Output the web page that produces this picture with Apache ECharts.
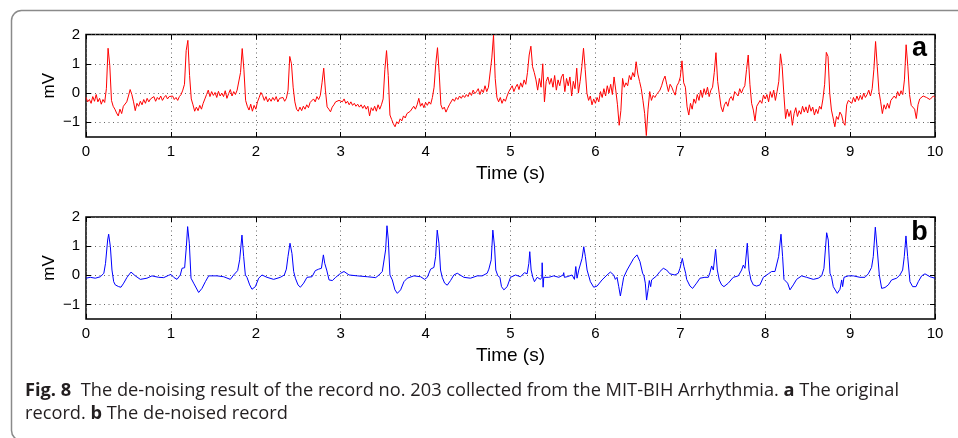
<!DOCTYPE html>
<html>
<head>
<meta charset="utf-8">
<script src="https://cdn.jsdelivr.net/npm/echarts@6/dist/echarts.min.js"></script>
<style>
  html, body { margin: 0; padding: 0; background: #fff; }
  #main { width: 958px; height: 438px; }
</style>
</head>
<body>
<div id="main"></div>
<script>
// original record (a), one row per second, sampled every 0.02 s, in mV
var rawStep = 0.02
var rawMv = [
  -0.15, -0.30, -0.22, -0.35, -0.12, -0.28, -0.05, -0.30, -0.18, -0.38, -0.22, -0.32, 0.15, 1.53, 0.95, -0.25, -0.45, -0.55, -0.68, -0.78, -0.55, -0.70, -0.45, -0.50, -0.30, -0.10, 0.12, -0.05, -0.30, -0.60, -0.35, -0.45, -0.28, -0.40, -0.22, -0.35, -0.18, -0.30, -0.20, -0.25, -0.12, -0.28, -0.15, -0.22, -0.10, -0.25, -0.15, -0.08, -0.20, -0.12,
  -0.18, -0.10, -0.22, -0.15, -0.25, -0.12, -0.05, 0.10, 0.30, 1.45, 1.80, 0.60, -0.20, -0.40, -0.62, -0.48, -0.60, -0.42, -0.55, -0.35, -0.20, -0.05, 0.10, -0.12, 0.05, -0.08, 0.02, -0.15, 0.06, -0.10, 0.00, -0.12, 0.08, -0.18, -0.02, 0.12, -0.10, 0.05, -0.05, 0.10, 0.15, 0.70, 1.52, 0.80, -0.25, -0.45, -0.58, -0.38, -0.62, -0.42,
  -0.55, -0.30, -0.15, 0.02, -0.08, -0.25, -0.12, -0.30, -0.18, -0.28, -0.15, -0.25, -0.12, -0.30, -0.18, -0.22, -0.15, -0.28, -0.18, 0.10, 1.25, 1.00, 0.20, -0.30, -0.55, -0.62, -0.48, -0.60, -0.45, -0.55, -0.40, -0.50, -0.32, -0.35, -0.20, -0.30, -0.12, -0.22, -0.08, 0.35, 0.85, 0.10, -0.47, -0.55, -0.64, -0.48, -0.40, -0.30, -0.35, -0.25,
  -0.22, -0.30, -0.20, -0.35, -0.28, -0.40, -0.30, -0.42, -0.35, -0.45, -0.38, -0.48, -0.40, -0.52, -0.42, -0.55, -0.45, -0.78, -0.50, -0.60, -0.45, -0.62, -0.40, -0.55, -0.40, -0.20, 0.80, 1.45, 0.60, -0.75, -0.90, -1.05, -1.15, -0.98, -1.05, -0.88, -0.95, -0.78, -0.85, -0.70, -0.75, -0.62, -0.68, -0.45, -0.55, -0.40, -0.18, -0.45, -0.35, -0.50,
  -0.32, -0.42, -0.30, -0.38, -0.15, 0.20, 1.00, 1.55, 0.70, -0.40, -0.55, -0.48, -0.65, -0.52, -0.40, -0.35, -0.20, -0.28, -0.15, -0.22, -0.10, -0.18, -0.08, -0.15, -0.05, -0.12, 0.02, -0.08, 0.10, -0.02, 0.05, 0.15, -0.05, 0.12, 0.02, 0.25, 0.05, 0.20, 0.15, 1.20, 1.98, 0.50, -0.15, -0.30, -0.15, -0.35, -0.20, -0.28, -0.10, 0.05,
  0.10, 0.25, 0.05, 0.20, 0.30, 0.12, 0.35, 0.20, 0.45, 0.30, 0.70, 1.30, 1.60, 0.90, 0.70, 0.45, 0.10, 0.50, 0.20, 1.00, -0.30, 0.40, 0.55, 0.30, 0.50, 0.20, 0.60, 0.10, 0.45, 0.25, 0.55, 0.65, 0.05, 0.50, 0.25, 0.55, -0.10, 0.40, 0.15, 0.85, 0.00, 0.40, 0.90, 1.53, 0.80, 0.00, -0.25, -0.10, -0.40, -0.20,
  -0.35, -0.15, -0.30, 0.05, -0.15, 0.15, -0.10, 0.25, 0.00, 0.30, -0.05, 0.55, 0.10, -0.40, -1.10, -0.60, 0.50, 0.20, 0.35, 0.25, 0.60, 0.45, 0.70, 0.55, 1.07, 0.65, 0.40, 0.15, -0.25, -0.70, -1.45, -0.55, 0.05, -0.25, -0.08, -0.15, -0.05, -0.10, 0.10, 0.25, 0.45, 0.58, 0.30, 0.05, 0.30, 0.20, 0.05, -0.07, 0.25, 0.35,
  0.55, 1.10, 0.35, 0.20, -0.47, -0.75, -0.35, -0.55, -0.20, -0.35, -0.05, -0.25, 0.10, -0.15, 0.15, -0.05, 0.20, -0.12, 0.10, 0.20, 0.70, 1.38, 0.40, -0.05, -0.47, -0.64, -0.40, -0.30, -0.45, -0.20, -0.12, -0.25, 0.05, 0.10, -0.10, 0.15, 0.00, 0.15, 0.25, 0.80, 1.30, 0.30, -0.35, -0.58, -0.95, -0.45, -0.50, -0.25, -0.35, -0.07,
  -0.20, -0.05, -0.30, 0.05, -0.15, 0.10, -0.25, 0.05, 0.40, 1.34, 0.90, -0.05, -0.87, -0.55, -0.80, -0.60, -1.10, -0.70, -0.50, -0.80, -0.60, -0.72, -0.45, -0.65, -0.47, -0.68, -0.40, -0.62, -0.48, -0.75, -0.55, -0.70, -0.45, -0.55, -0.20, 0.30, 1.39, 1.25, 0.00, -0.58, -0.85, -1.15, -0.80, -0.90, -0.65, -0.75, -1.00, -1.10, -0.40, -0.25,
  -0.20, -0.35, -0.15, -0.30, -0.10, -0.25, -0.08, -0.22, 0.00, -0.15, -0.05, 0.10, -0.10, 0.15, 0.80, 1.76, 0.90, 0.05, -0.30, -0.70, -0.40, -0.55, -0.35, -0.52, -0.25, -0.30, -0.10, -0.18, 0.05, -0.10, 0.08, -0.05, 0.45, 1.65, 0.90, -0.05, -0.42, -0.47, -0.55, -0.87, -0.40, -0.20, -0.25, -0.10, -0.05, -0.15, -0.10, -0.22, -0.18, -0.10,
  -0.15
]

// de-noised record (b), [time s, mV]
var cleanPts = [
  [0, -0.10], [0.05, -0.07], [0.11, -0.10], [0.17, -0.05], [0.21, 0.07], [0.23, 0.41], [0.255, 1.21], [0.267, 1.41], [0.287, 0.98], [0.306, 0.18],
  [0.326, -0.22], [0.345, -0.33], [0.385, -0.39], [0.412, -0.41], [0.444, -0.27], [0.483, -0.07], [0.53, 0.11], [0.581, -0.02], [0.64, -0.14], [0.718, -0.10],
  [0.777, -0.02], [0.856, -0.07], [0.915, -0.08], [0.974, 0.00], [1.001, 0.03], [1.033, -0.07], [1.072, -0.14], [1.111, 0.01], [1.131, 0.24], [1.162, 0.26],
  [1.182, 0.98], [1.197, 1.67], [1.217, 1.10], [1.237, -0.10], [1.268, -0.27], [1.327, -0.59], [1.366, -0.45], [1.406, -0.22], [1.445, -0.02], [1.543, -0.02],
  [1.622, -0.05], [1.70, -0.14], [1.739, 0.01], [1.786, 0.16], [1.81, 0.53], [1.837, 1.38], [1.857, 0.64], [1.877, 0.01], [1.896, -0.07], [1.928, -0.33],
  [1.955, -0.48], [1.995, -0.39], [2.034, -0.10], [2.073, 0.01], [2.132, -0.07], [2.21, -0.14], [2.289, -0.07], [2.336, 0.01], [2.36, 0.21], [2.379, 0.64],
  [2.403, 1.10], [2.426, 0.75], [2.446, 0.13], [2.466, -0.10], [2.497, -0.33], [2.525, -0.41], [2.564, -0.27], [2.603, -0.07], [2.662, -0.05], [2.701, 0.16],
  [2.74, 0.21], [2.773, 0.24], [2.796, 0.70], [2.812, 0.41], [2.835, 0.18], [2.863, -0.16], [2.902, -0.18], [2.941, -0.07], [3.0, 0.07], [3.039, 0.13],
  [3.098, 0.01], [3.196, -0.02], [3.314, -0.05], [3.412, -0.08], [3.451, 0.01], [3.49, 0.13], [3.51, 0.09], [3.529, 0.87], [3.545, 1.70], [3.561, 1.21],
  [3.58, 0.01], [3.608, -0.16], [3.639, -0.50], [3.667, -0.62], [3.706, -0.50], [3.745, -0.22], [3.784, -0.10], [3.863, -0.02], [3.941, -0.05], [3.988, -0.14],
  [4.02, -0.07], [4.059, 0.21], [4.098, 0.27], [4.118, 0.64], [4.137, 1.55], [4.157, 1.10], [4.176, 0.18], [4.196, -0.07], [4.224, -0.27], [4.255, -0.34],
  [4.294, -0.18], [4.333, 0.01], [4.373, 0.07], [4.451, -0.07], [4.529, -0.10], [4.608, -0.02], [4.667, -0.02], [4.725, 0.07], [4.745, 0.21], [4.773, 0.53],
  [4.792, 1.55], [4.812, 0.98], [4.827, 0.18], [4.851, -0.02], [4.875, -0.07], [4.894, -0.39], [4.922, -0.50], [4.961, -0.39], [5.0, -0.07], [5.059, 0.01],
  [5.118, -0.05], [5.165, 0.09], [5.196, 0.05], [5.216, 0.41], [5.227, 0.81], [5.243, 0.18], [5.263, -0.07], [5.282, -0.22], [5.314, -0.07], [5.353, -0.14],
  [5.369, -0.07], [5.373, 0.43], [5.38, -0.10], [5.384, -0.41], [5.392, -0.07], [5.451, -0.07], [5.51, -0.02], [5.569, -0.07], [5.62, 0.01], [5.627, 0.09],
  [5.635, -0.07], [5.667, -0.05], [5.725, 0.01], [5.753, -0.14], [5.769, 0.30], [5.784, -0.10], [5.804, 0.18], [5.824, 0.24], [5.843, 0.58], [5.863, 0.98],
  [5.882, 0.64], [5.902, 0.18], [5.941, -0.22], [5.98, -0.41], [6.02, -0.37], [6.078, -0.16], [6.137, 0.01], [6.176, 0.11], [6.216, 0.01], [6.235, -0.14],
  [6.255, -0.07], [6.275, -0.39], [6.294, -0.71], [6.314, -0.39], [6.333, -0.07], [6.373, 0.18], [6.451, 0.58], [6.49, 0.70], [6.505, 0.66], [6.525, 0.47],
  [6.556, 0.07], [6.572, -0.02], [6.588, -0.27], [6.603, -0.85], [6.623, -0.45], [6.635, -0.18], [6.651, -0.39], [6.662, -0.16], [6.682, -0.14], [6.721, -0.02],
  [6.76, 0.13], [6.80, 0.24], [6.839, 0.18], [6.878, 0.05], [6.937, 0.01], [6.976, 0.07], [6.996, 0.24], [7.024, 0.58], [7.043, 0.30], [7.063, 0.07],
  [7.075, -0.14], [7.114, -0.37], [7.145, -0.45], [7.192, -0.27], [7.232, -0.10], [7.29, -0.07], [7.33, -0.07], [7.349, 0.09], [7.369, 0.32], [7.389, 0.18],
  [7.416, 0.89], [7.436, 0.18], [7.459, -0.16], [7.487, -0.33], [7.514, -0.39], [7.565, -0.27], [7.624, -0.07], [7.683, -0.02], [7.722, 0.18], [7.742, 0.35],
  [7.762, 0.24], [7.789, 1.10], [7.809, 0.18], [7.832, -0.16], [7.86, -0.33], [7.899, -0.37], [7.938, -0.33], [7.978, -0.07], [8.037, 0.05], [8.076, 0.13],
  [8.115, 0.13], [8.135, 0.18], [8.158, 0.64], [8.186, 1.41], [8.205, 0.64], [8.221, -0.14], [8.241, -0.16], [8.264, -0.27], [8.292, -0.50], [8.311, -0.56],
  [8.331, -0.33], [8.37, -0.14], [8.429, -0.02], [8.488, -0.07], [8.567, -0.14], [8.625, -0.10], [8.665, -0.02], [8.692, 0.24], [8.724, 1.46], [8.743, 1.21],
  [8.763, 0.07], [8.782, -0.07], [8.802, -0.39], [8.822, -0.45], [8.849, -0.62], [8.881, -0.48], [8.901, -0.16], [8.912, -0.39], [8.928, -0.07], [8.979, -0.02],
  [9.038, -0.02], [9.116, -0.07], [9.175, -0.07], [9.214, 0.05], [9.253, 0.27], [9.273, 0.64], [9.297, 1.65], [9.32, 0.87], [9.344, 0.01], [9.372, -0.45],
  [9.411, -0.42], [9.45, -0.33], [9.489, -0.16], [9.548, -0.10], [9.587, 0.01], [9.619, 0.18], [9.638, 0.64], [9.658, 1.35], [9.678, 0.64], [9.705, -0.22],
  [9.737, -0.39], [9.776, -0.39], [9.803, -0.22], [9.843, -0.02], [9.882, 0.05], [9.941, -0.05], [10.0, -0.10]
]

var yTicks = [-1, 0, 1, 2]
var captionLine1 = ['Fig. 8', '  The de-noising result of the record no. 203 collected from the MIT-BIH Arrhythmia. ', 'a', ' The original']
var captionLine2 = ['record. ', 'b', ' The de-noised record']

var axisFont = "'Liberation Sans', Arial, Helvetica, sans-serif"
var capFamily = "'Open Sans', 'Noto Sans', sans-serif"

var rawPts = rawMv.map(function (v, i) { return [+(i * rawStep).toFixed(2), v] })

// squeeze the caption to the width it has in the figure
var cv = document.createElement('canvas').getContext('2d')
function textW (font, s) {
  cv.font = font
  return cv.measureText(s).width
}
var capW = textW('bold 18px ' + capFamily, captionLine1[0]) + textW('18px ' + capFamily, captionLine1[1]) +
  textW('bold 18px ' + capFamily, captionLine1[2]) + textW('18px ' + capFamily, captionLine1[3])
var capScale = 874 / capW

var tickStyle = { inside: true, length: 5, lineStyle: { color: '#000', width: 1 } }
var gridDots = { show: true, lineStyle: { color: '#666', width: 1, type: [1, 3.5] } }
var noLine = { show: false, onZero: false }

function xAxes (grid) {
  return [
    {
      gridIndex: grid, type: 'value', min: 0, max: 10, interval: 1, position: 'bottom',
      axisLine: noLine,
      axisTick: tickStyle,
      axisLabel: { margin: 7, fontSize: 15, color: '#000', fontFamily: axisFont },
      splitLine: gridDots,
      name: 'Time (s)', nameLocation: 'middle', nameGap: 27, nameMoveOverlap: false,
      nameTextStyle: { fontSize: 19, color: '#000', fontFamily: axisFont }
    },
    {
      gridIndex: grid, type: 'value', min: 0, max: 10, interval: 1, position: 'top',
      axisLine: noLine,
      axisTick: tickStyle,
      axisLabel: { show: false },
      splitLine: { show: false }
    }
  ]
}

function yAxes (grid) {
  return [
    {
      gridIndex: grid, type: 'value', min: -1.5, max: 2, position: 'left',
      axisLine: noLine,
      axisTick: Object.assign({ customValues: yTicks }, tickStyle),
      axisLabel: {
        customValues: yTicks, margin: 6, fontSize: 15, color: '#000', fontFamily: axisFont,
        formatter: function (v) { return String(v).replace('-', '\u2212') }
      },
      splitLine: gridDots,
      name: 'mV', nameLocation: 'middle', nameRotate: 90, nameGap: 28, nameMoveOverlap: false,
      nameTextStyle: { fontSize: 17, color: '#000', fontFamily: axisFont }
    },
    {
      gridIndex: grid, type: 'value', min: -1.5, max: 2, position: 'right',
      axisLine: noLine,
      axisTick: Object.assign({ customValues: yTicks }, tickStyle),
      axisLabel: { show: false },
      splitLine: { show: false }
    }
  ]
}

var chart = echarts.init(document.getElementById('main'), null, { renderer: 'canvas' })

var option = {
  animation: false,
  backgroundColor: '#fff',
  grid: [
    { left: 86, top: 34.5, width: 849, height: 102.5, show: true, borderColor: '#000', borderWidth: 1.5, backgroundColor: 'transparent' },
    { left: 86, top: 217, width: 849, height: 102, show: true, borderColor: '#000', borderWidth: 1.5, backgroundColor: 'transparent' }
  ],
  xAxis: xAxes(0).concat(xAxes(1)),
  yAxis: yAxes(0).concat(yAxes(1)),
  series: [
    {
      name: 'original', type: 'line', xAxisIndex: 0, yAxisIndex: 0,
      data: rawPts, showSymbol: false, symbol: 'none',
      lineStyle: { color: '#ff0000', width: 1 }
    },
    {
      name: 'de-noised', type: 'line', xAxisIndex: 2, yAxisIndex: 2,
      data: cleanPts, showSymbol: false, symbol: 'none',
      lineStyle: { color: '#0000ff', width: 1 }
    }
  ],
  graphic: [
    {
      type: 'rect', z: -1, silent: true,
      shape: { x: 11.5, y: 10.5, width: 990, height: 430, r: 10 },
      style: { fill: 'none', stroke: '#8a8a8a', lineWidth: 1.5 }
    },
    {
      type: 'text', x: 919.5, y: 48.5,
      style: { text: 'a', font: 'bold 27px ' + axisFont, fill: '#000', align: 'center', verticalAlign: 'middle' }
    },
    {
      type: 'text', x: 919.5, y: 233,
      style: { text: 'b', font: 'bold 27px ' + axisFont, fill: '#000', align: 'center', verticalAlign: 'middle' }
    },
    {
      type: 'text', x: 25, y: 391, scaleX: capScale,
      style: {
        text: '{b|' + captionLine1[0] + '}' + captionLine1[1] + '{b|' + captionLine1[2] + '}' + captionLine1[3],
        fontFamily: capFamily, fontSize: 18, fill: '#231f20', verticalAlign: 'middle',
        rich: { b: { fontWeight: 'bold', fontFamily: capFamily, fontSize: 18, fill: '#231f20' } }
      }
    },
    {
      type: 'text', x: 25, y: 414, scaleX: capScale,
      style: {
        text: captionLine2[0] + '{b|' + captionLine2[1] + '}' + captionLine2[2],
        fontFamily: capFamily, fontSize: 18, fill: '#231f20', verticalAlign: 'middle',
        rich: { b: { fontWeight: 'bold', fontFamily: capFamily, fontSize: 18, fill: '#231f20' } }
      }
    }
  ]
}

chart.setOption(option)
window.addEventListener('resize', function () {
  chart.resize()
})
</script>
</body>
</html>
